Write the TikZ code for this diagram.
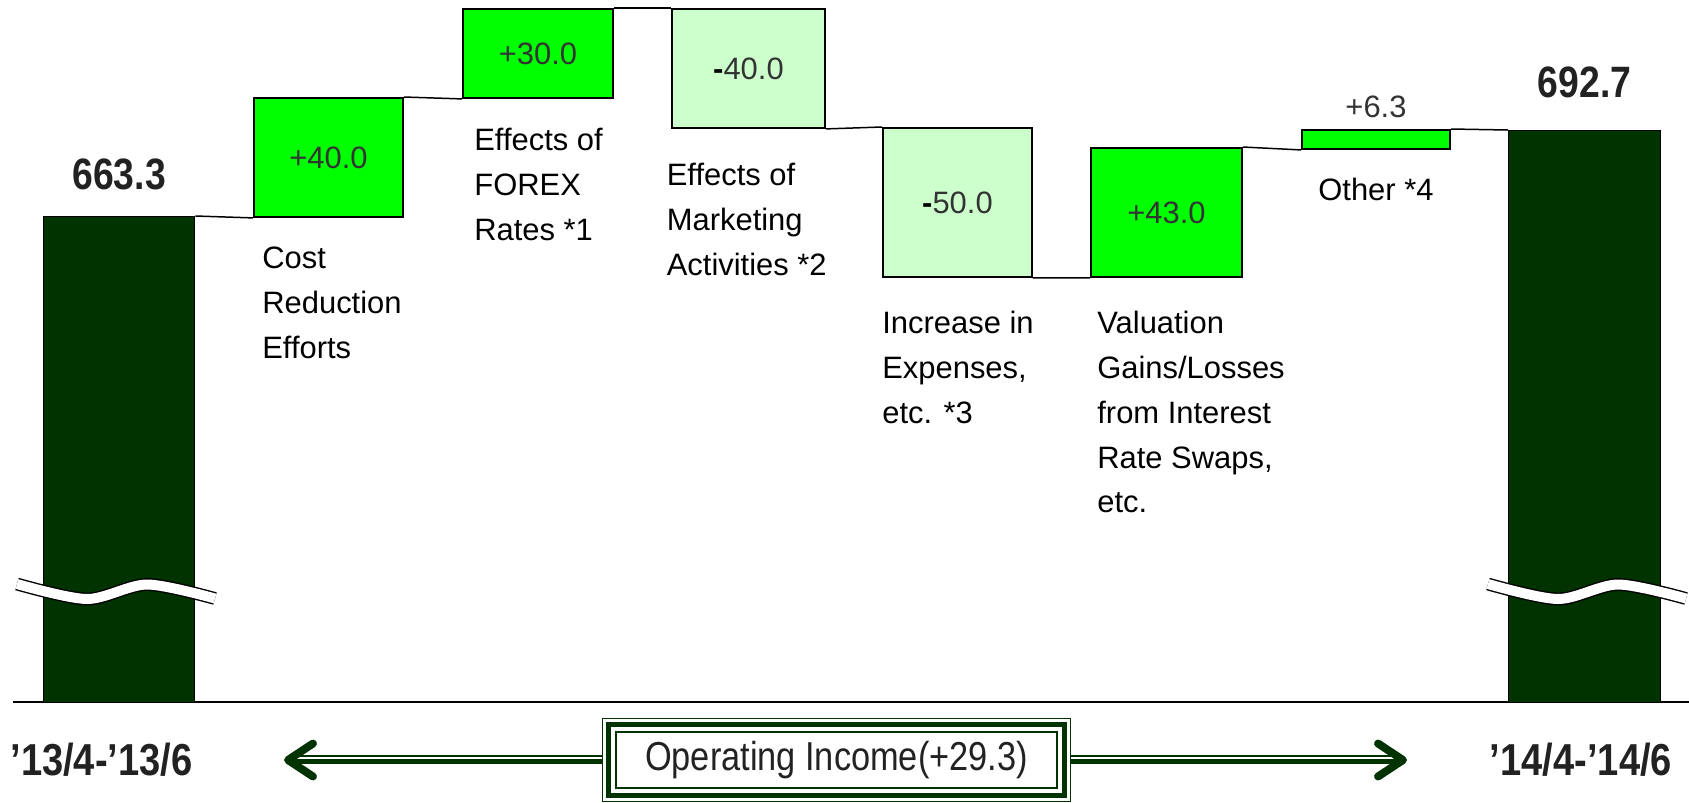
\documentclass[tikz,border=0pt]{standalone}
\usepackage{fontspec}
\setmainfont{Liberation Sans}
\newfontfamily\narrowfont[FakeStretch=0.85]{Liberation Sans}
\usepackage{tikz}
\usetikzlibrary{positioning}
\usetikzlibrary{fit}

\definecolor{dkgreen}{RGB}{0,51,0}
\definecolor{brgreen}{RGB}{0,255,0}
\definecolor{ltgreen}{RGB}{204,255,204}
\definecolor{numgray}{RGB}{51,51,51}
\definecolor{txtdark}{RGB}{34,34,34}

\newcommand{\lblfont}{\fontsize{17.6}{25.5}\selectfont}

\begin{document}
\begin{tikzpicture}[
  x=0.02cm, y=-0.02cm,
  bar/.style={draw, line width=0.8pt, fill=dkgreen, anchor=north west, inner sep=0},
  upbox/.style={draw, line width=1.1pt, fill=brgreen, text=numgray, anchor=north west, inner sep=0, font=\lblfont},
  downbox/.style={upbox, fill=ltgreen},
  lbl/.style={align=left, inner sep=0, font=\lblfont},
  vallbl/.style={inner sep=0, text=numgray, font=\lblfont},
  bignum/.style={inner sep=0, text=txtdark, font=\fontsize{25}{30}\narrowfont\bfseries},
  yearlbl/.style={inner sep=0, text=txtdark, font=\fontsize{25.5}{30}\narrowfont\bfseries},
  link/.style={line width=0.85pt},
  breakline/.style={draw=black, line width=0.8pt, double=white, double distance=0.2cm},
  chevron/.style={draw=dkgreen, line width=4.5pt, line cap=round, line join=round}
]
\useasboundingbox (0,0) rectangle (1689,802);

% axis
\coordinate (axl) at (13,702);
\coordinate (axr) at (1689,702);
\draw[link] (axl) -- (axr);

% start and end bars
\node[bar, minimum width=3.02cm, minimum height=9.72cm] (bar1) at (43,216) {};
\node[bar, minimum width=3.04cm, minimum height=11.44cm] (bar2) at (1508,130) {};

% steps
\node[upbox, minimum width=2.98cm, minimum height=2.38cm] (b1) at (253,97) {+40.0};
\node[upbox, minimum width=3.0cm, minimum height=1.78cm] (b2) at (462,8) {+30.0};
\node[downbox, minimum width=3.06cm, minimum height=2.38cm] (b3) at (671,8) {{\color{black}\bfseries -}40.0};
\node[downbox, minimum width=2.98cm, minimum height=2.98cm] (b4) at (882,127) {{\color{black}\bfseries -}50.0};
\node[upbox, minimum width=3.02cm, minimum height=2.58cm] (b5) at (1090,147) {+43.0};
\node[upbox, minimum width=2.96cm, minimum height=0.38cm] (b6) at (1301,129) {};
\node[vallbl, above=0.22cm of b6] (v6) {+6.3};

\draw[link] (bar1.north east) -- (b1.south west);
\draw[link] (b1.north east) -- (b2.south west);
\draw[link] (b2.north east) -- (b3.north west);
\draw[link] (b3.south east) -- (b4.north west);
\draw[link] (b4.south east) -- (b5.south west);
\draw[link] (b5.north east) -- (b6.south west);
\draw[link] (b6.north east) -- (bar2.north west);

% totals
\node[bignum, above=0.52cm of bar1] (t1) {663.3};
\node[bignum, above=0.64cm of bar2] (t2) {692.7};

% labels
\node[lbl, below right=0.58cm and 0.18cm of b1.south west] (l1) {Cost\\Reduction\\Efforts};
\node[lbl, below right=0.58cm and 0.24cm of b2.south west] (l2) {Effects of\\FOREX\\Rates *1};
\node[lbl, below right=0.68cm and -0.09cm of b3.south west] (l3) {Effects of\\Marketing\\Activities *2};
\node[lbl, below right=0.66cm and 0cm of b4.south west] (l4) {Increase in\\Expenses,\\etc. *3};
\node[lbl, below right=0.66cm and 0.14cm of b5.south west] (l5) {Valuation\\Gains/Losses\\from Interest\\Rate Swaps,\\etc.};
\node[lbl, below=0.56cm of b6] (l6) {Other *4};

% break marks
\draw[breakline] plot[smooth] coordinates {(17,584) (87,599) (147,584.5) (215,598.5)};
\begin{scope}[shift={(1471,0)}]
\draw[breakline] plot[smooth] coordinates {(17,584) (87,599) (147,584.5) (215,598.5)};
\end{scope}

% periods
\node[yearlbl] (y1) at (101.5,760) {’13/4-’13/6};
\node[yearlbl] (y2) at (1581,760) {’14/4-’14/6};

% operating income box
\node[draw=dkgreen, line width=0.9pt, minimum width=8.82cm, minimum height=1.12cm,
      text=txtdark, font=\fontsize{23}{28}\narrowfont] (oi) at (836.5,760) {Operating Income(+29.3)};
\node[fit=(oi), inner sep=0.13cm, draw=dkgreen, line width=2.8pt] (oiband) {};
\node[fit=(oi), inner sep=0.25cm, draw=dkgreen, line width=0.7pt] (oiouter) {};

% arrows
\coordinate (ltip) at (288,760);
\coordinate (rtip) at (1403,760);
\draw[dkgreen, line width=0.95pt] ([yshift=0.086cm]oiouter.west) -- ([yshift=0.086cm]ltip);
\draw[dkgreen, line width=3pt] ([yshift=-0.034cm]oiouter.west) -- ([yshift=-0.034cm]ltip);
\draw[dkgreen, line width=0.95pt] ([yshift=0.086cm]oiouter.east) -- ([yshift=0.086cm]rtip);
\draw[dkgreen, line width=3pt] ([yshift=-0.034cm]oiouter.east) -- ([yshift=-0.034cm]rtip);
\draw[chevron] (ltip) ++(25,-16.5) -- (ltip) -- ++(25,16.5);
\draw[chevron] (rtip) ++(-25,-16.5) -- (rtip) -- ++(-25,16.5);

\end{tikzpicture}
\end{document}
